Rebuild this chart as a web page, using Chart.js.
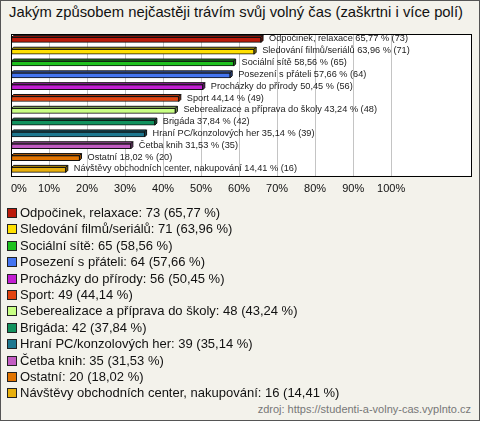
<!DOCTYPE html>
<html>
<head>
<meta charset="utf-8">
<script src="https://cdn.jsdelivr.net/npm/chart.js@4/dist/chart.umd.min.js"></script>
<style>
    body { margin: 0; }
    #box {
        position: relative;
        width: 478px;
        height: 419px;
        border: 1px solid #555;
        background: #f3f2eb;
        font-family: "Liberation Sans", Arial, sans-serif;
        overflow: hidden;
    }
    #title { position: absolute; left: 8px; top: 3px; font-size: 14.8px; color: #111; }
    #chartWrap { position: absolute; left: -1px; top: 27px; width: 480px; height: 181px; }
    #legend { position: absolute; left: 6px; top: 204px; font-size: 13px; color: #111; }
    .item { height: 16.4px; line-height: 16.4px; white-space: nowrap; }
    .sq { display: inline-block; width: 8px; height: 8px; border: 1px solid #222; margin-right: 3px; vertical-align: -1px; }
    #source { position: absolute; right: 8px; top: 402px; font-size: 11px; color: #777; }
</style>
</head>
<body>
<div id="box">
    <div id="title">Jakým způsobem nejčastěji trávím svůj volný čas (zaškrtni i více polí)</div>
    <div id="chartWrap"><canvas id="chart" width="480" height="181"></canvas></div>
    <div id="legend"></div>
    <div id="source">zdroj: https://studenti-a-volny-cas.vyplnto.cz</div>
</div>
<script>
const categories = [
    "Odpočinek, relaxace",
    "Sledování filmů/seriálů",
    "Sociální sítě",
    "Posezení s přáteli",
    "Procházky do přírody",
    "Sport",
    "Seberealizace a příprava do školy",
    "Brigáda",
    "Hraní PC/konzolových her",
    "Četba knih",
    "Ostatní",
    "Návštěvy obchodních center, nakupování"
];
const counts = [73, 71, 65, 64, 56, 49, 48, 42, 39, 35, 20, 16];
const percents = [65.77, 63.96, 58.56, 57.66, 50.45, 44.14, 43.24, 37.84, 35.14, 31.53, 18.02, 14.41];
const colors = ["#bb1a0a", "#ffe000", "#1ec21e", "#4474f0", "#c21ed2", "#e2420e", "#c8ff84", "#12925e", "#1e7890", "#c25cc2", "#e27400", "#e8b00e"];
const xTicks = [0, 10, 20, 30, 40, 50, 60, 70, 80, 90, 100];
const xMax = 121;

const fmt = v => v.toFixed(2).replace(".", ",");

// legend as html
const legend = document.getElementById("legend");
categories.forEach((c, i) => {
    const div = document.createElement("div");
    div.className = "item";
    div.innerHTML = `<span class="sq" style="background:${colors[i]}"></span>${c}: ${counts[i]} (${fmt(percents[i])} %)`;
    legend.appendChild(div);
});

function darker(hex, f) {
    const n = parseInt(hex.slice(1), 16);
    const r = Math.round(((n >> 16) & 255) * f);
    const g = Math.round(((n >> 8) & 255) * f);
    const b = Math.round((n & 255) * f);
    return `rgb(${r},${g},${b})`;
}

const bars3d = {
    id: "bars3d",
    afterDatasetsDraw(chart) {
        const ctx = chart.ctx;
        const meta = chart.getDatasetMeta(0);
        const d = 2;
        ctx.save();
        ctx.lineWidth = 1;
        ctx.strokeStyle = "#111";
        meta.data.forEach((bar, i) => {
            const x0 = bar.base, x1 = bar.x;
            const y0 = bar.y - bar.height / 2, y1 = bar.y + bar.height / 2;
            // top face
            ctx.fillStyle = darker(colors[i], 0.75);
            ctx.beginPath();
            ctx.moveTo(x0, y0);
            ctx.lineTo(x0 + d, y0 - d);
            ctx.lineTo(x1 + d, y0 - d);
            ctx.lineTo(x1, y0);
            ctx.closePath();
            ctx.fill();
            ctx.stroke();
            // right face
            ctx.fillStyle = darker(colors[i], 0.6);
            ctx.beginPath();
            ctx.moveTo(x1, y0);
            ctx.lineTo(x1 + d, y0 - d);
            ctx.lineTo(x1 + d, y1 - d);
            ctx.lineTo(x1, y1);
            ctx.closePath();
            ctx.fill();
            ctx.stroke();
            // label
            ctx.fillStyle = "#222";
            ctx.font = "9.2px 'Liberation Sans', Arial, sans-serif";
            ctx.textBaseline = "middle";
            ctx.fillText(`${categories[i]} ${fmt(percents[i])} % (${counts[i]})`, x1 + 8, bar.y - 1);
        });
        // plot frame
        const a = chart.chartArea;
        ctx.strokeStyle = "#000";
        ctx.strokeRect(Math.round(a.left) + 0.5, Math.round(a.top) + 0.5, Math.round(a.right - a.left), Math.round(a.bottom - a.top));
        ctx.restore();
    }
};

const whiteArea = {
    id: "whiteArea",
    beforeDraw(chart) {
        const a = chart.chartArea;
        chart.ctx.save();
        chart.ctx.fillStyle = "#fff";
        chart.ctx.fillRect(a.left, a.top, a.right - a.left, a.bottom - a.top);
        chart.ctx.restore();
    }
};

new Chart(document.getElementById("chart"), {
    type: "bar",
    data: {
        labels: categories,
        datasets: [{
            data: percents,
            backgroundColor: colors,
            borderColor: "#111",
            borderWidth: 1,
            borderSkipped: false,
            barThickness: 5
        }]
    },
    options: {
        indexAxis: "y",
        responsive: false,
        animation: false,
        layout: { padding: { left: 11, right: 9, top: 6, bottom: 6 } },
        scales: {
            x: {
                min: 0,
                max: xMax,
                // extra empty tick at the end so labels don't push the plot area
                afterBuildTicks: axis => { axis.ticks = xTicks.concat([xMax]).map(v => ({ value: v })); },
                grid: {
                    color: c => (c.tick && c.tick.value > 100) ? "rgba(0,0,0,0)" : "#c4c4c4",
                    drawTicks: false
                },
                border: { display: false },
                ticks: {
                    padding: 7,
                    align: "inner",
                    color: "#111",
                    font: { family: "'Liberation Sans', Arial, sans-serif", size: 11 },
                    callback: v => v > 100 ? "" : v + "%"
                }
            },
            y: { display: false }
        },
        plugins: {
            legend: { display: false },
            tooltip: { enabled: false }
        }
    },
    plugins: [whiteArea, bars3d]
});
</script>
</body>
</html>
